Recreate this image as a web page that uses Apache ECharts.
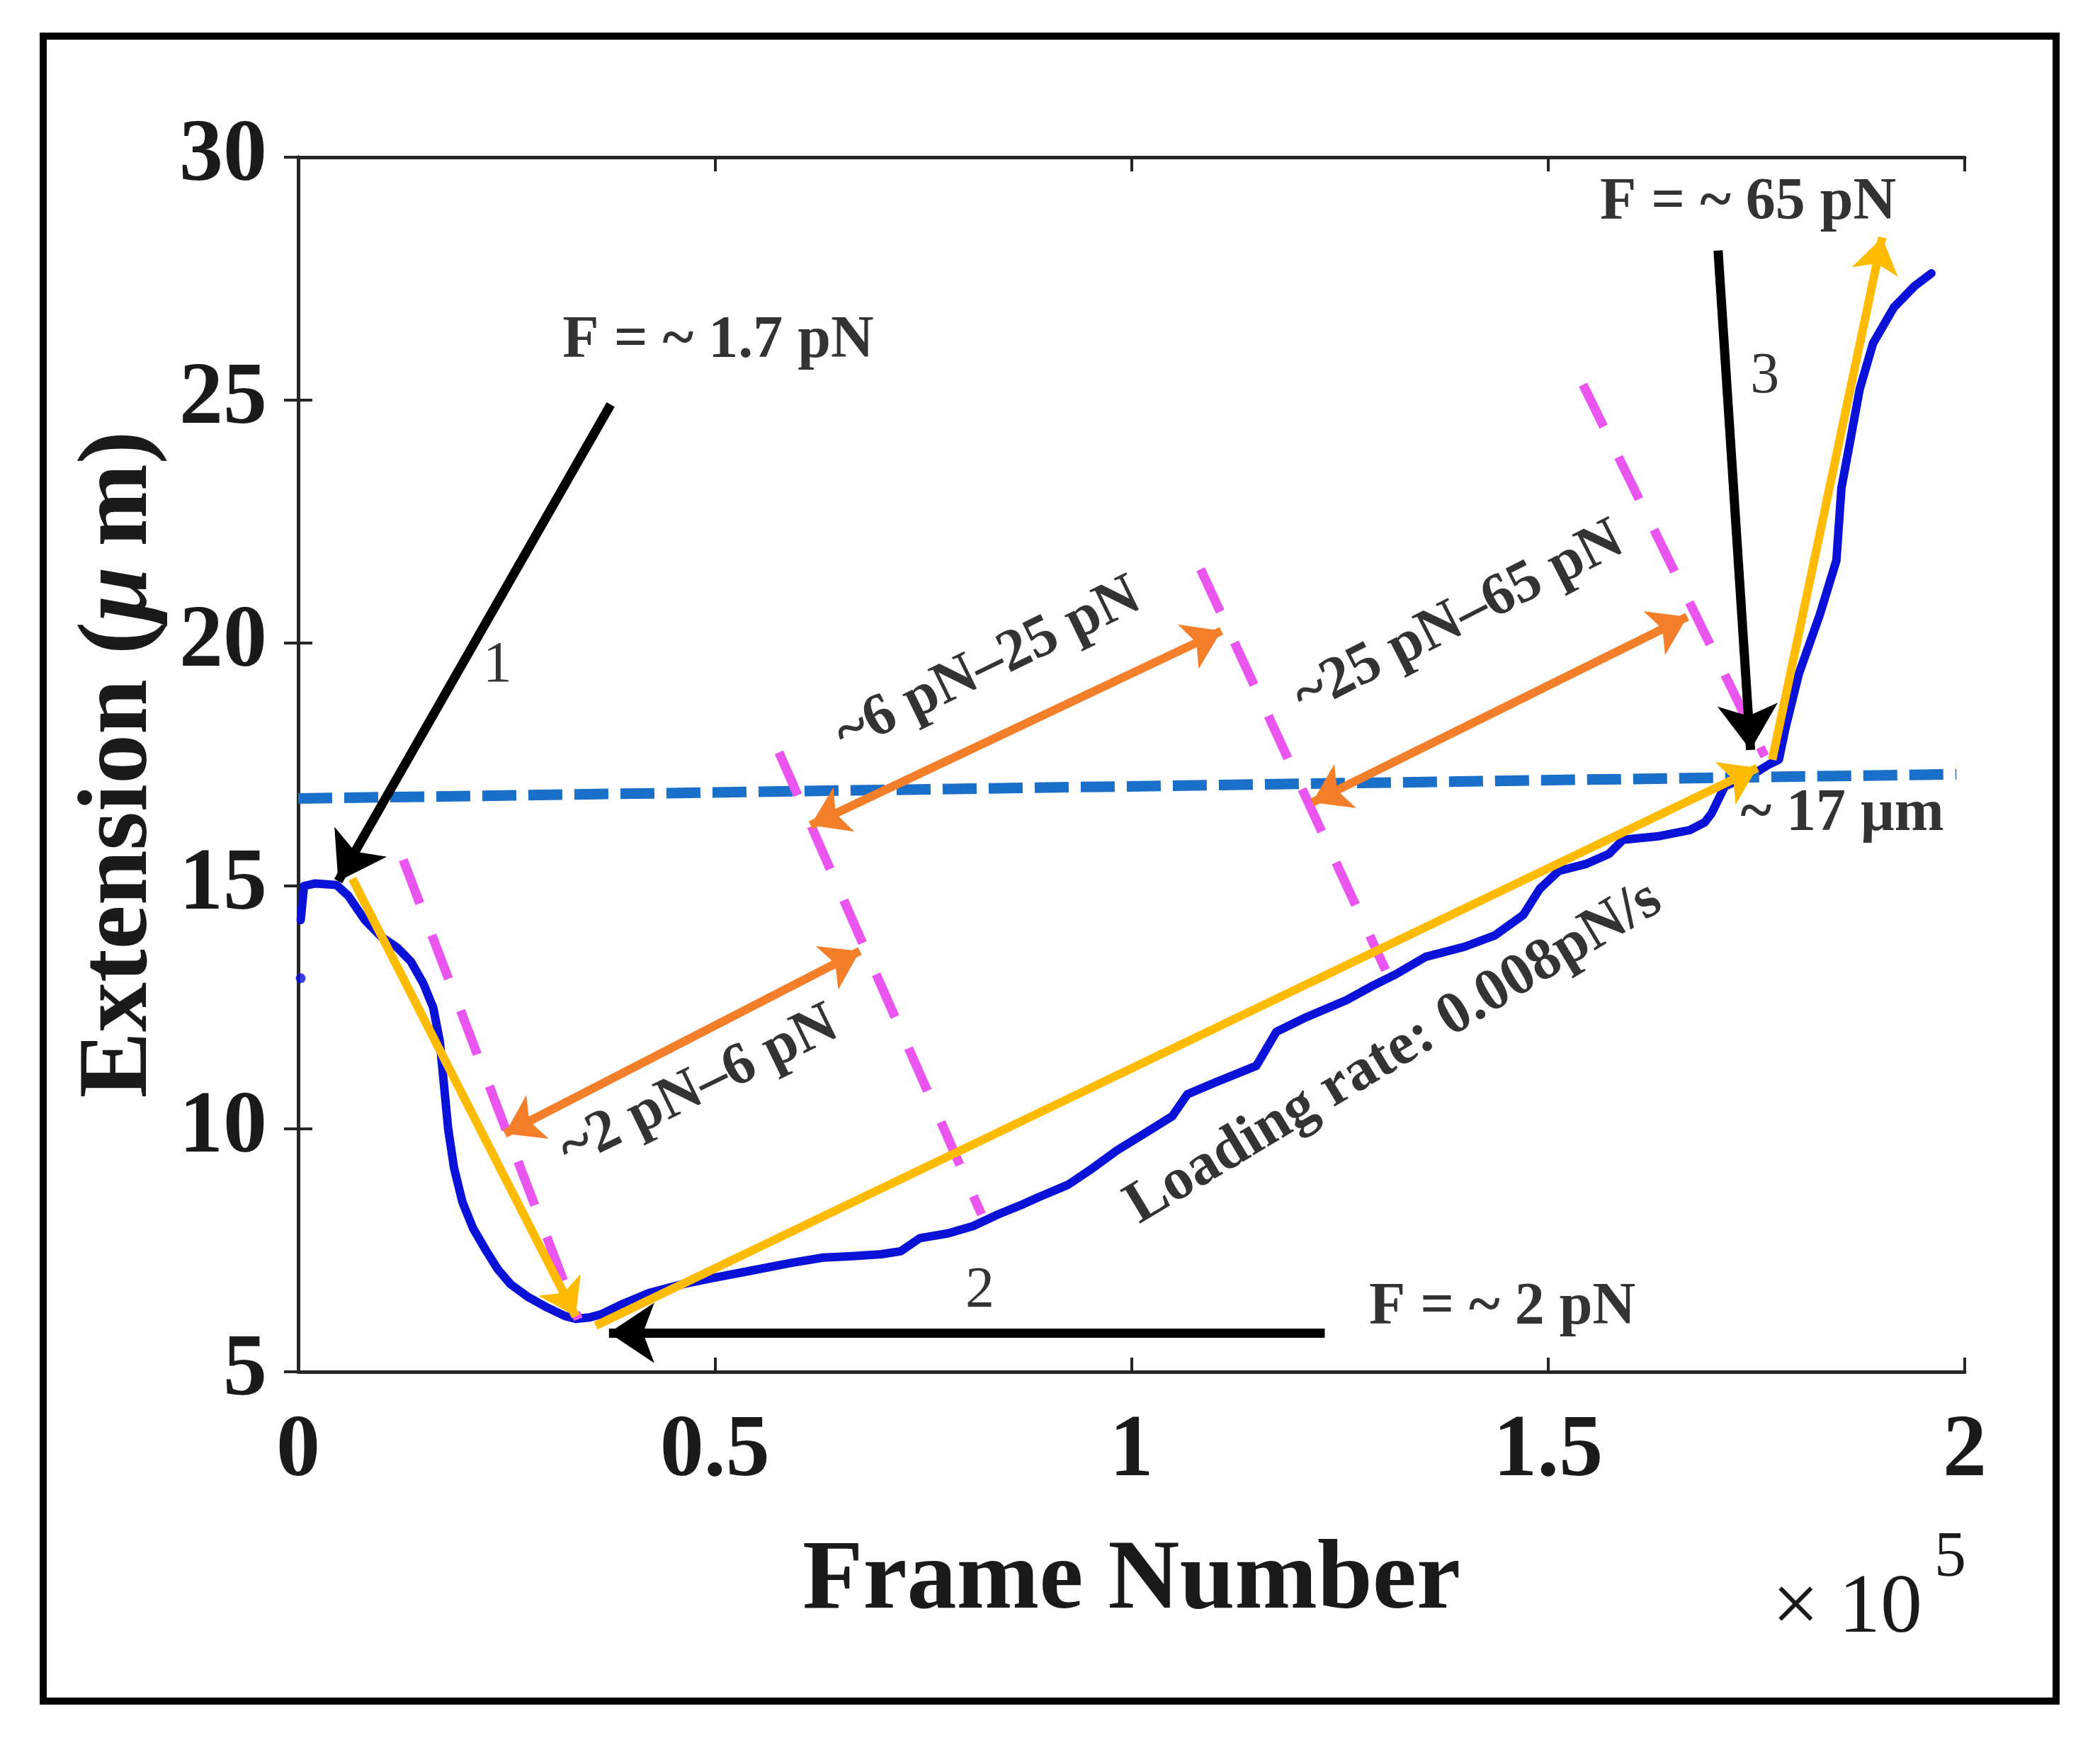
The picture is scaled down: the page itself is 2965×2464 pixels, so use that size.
<!DOCTYPE html>
<html>
<head>
<meta charset="utf-8">
<script src="https://cdn.jsdelivr.net/npm/echarts@6/dist/echarts.min.js"></script>
<style>
html,body{margin:0;padding:0;background:#fff;}
#chart{width:2965px;height:2464px;}
</style>
</head>
<body>
<div id="chart"></div>
<script>
// ---------- data (frame number in units of 1e5, extension in µm) ----------
const frameX = [0.003,0.007,0.02,0.046,0.06,0.08,0.10,0.119,0.135,0.15,0.162,0.170,0.175,0.180,0.187,0.197,0.210,0.226,0.24,0.255,0.275,0.299,0.320,0.333,0.350,0.363,0.39,0.421,0.46,0.494,0.54,0.591,0.63,0.665,0.70,0.723,0.746,0.78,0.81,0.84,0.87,0.888,0.924,0.95,0.983,1.02,1.049,1.067,1.10,1.15,1.174,1.21,1.258,1.29,1.317,1.353,1.40,1.436,1.47,1.490,1.513,1.545,1.573,1.59,1.631,1.67,1.688,1.696,1.712,1.749,1.765,1.777,1.785,1.801,1.826,1.846,1.852,1.862,1.874,1.890,1.915,1.94,1.960];
const extension = [14.3,15.0,15.05,15.02,14.8,14.3,13.95,13.73,13.45,13.0,12.5,11.8,10.9,10.0,9.2,8.5,7.95,7.48,7.1,6.8,6.55,6.32,6.15,6.09,6.12,6.18,6.4,6.62,6.8,6.92,7.07,7.24,7.35,7.38,7.42,7.48,7.75,7.85,8.0,8.24,8.45,8.59,8.85,9.15,9.56,9.95,10.26,10.71,10.95,11.3,12.0,12.3,12.65,12.95,13.18,13.54,13.75,13.98,14.4,14.94,15.31,15.45,15.66,15.95,16.02,16.15,16.31,16.49,17.05,17.33,17.5,17.6,18.26,19.37,20.58,21.7,23.19,24.11,25.23,26.17,26.91,27.35,27.61];
const firstPoint = [0.003, 13.1];

const xTicks = [0, 0.5, 1, 1.5, 2];
const yTicks = [5, 10, 15, 20, 25, 30];

// reference level (~17 µm)
const refLine = [[0, 16.8], [1.99, 17.3]];
// magenta dashed boundaries
const boundaryLines = [
  [[0.126, 15.54], [0.336, 6.08]],
  [[0.577, 17.75], [0.820, 8.24]],
  [[1.083, 21.52], [1.305, 13.27]],
  [[1.542, 25.32], [1.760, 17.67]]
];
// orange double-headed range arrows
const rangeArrows = [
  [[0.248, 9.90], [0.674, 13.66]],
  [[0.615, 16.25], [1.108, 20.25]],
  [[1.217, 16.72], [1.667, 20.54]]
];
// yellow trend arrows
const trendArrows = [
  [[0.065, 15.15], [0.333, 6.14]],
  [[0.357, 5.95], [1.751, 17.43]],
  [[1.769, 17.6], [1.901, 28.35]]
];
// black pointer arrows
const pointerArrows = [
  [[0.375, 24.91], [0.048, 15.10]],
  [[1.232, 5.80], [0.373, 5.80]],
  [[1.704, 28.08], [1.743, 17.80]]
];
// text annotations
const noteTexts = ['F = ~ 1.7 pN', 'F = ~ 2 pN', 'F = ~ 65 pN', '~ 17 μm', 'Loading rate: 0.008pN/s', '~2 pN–6 pN', '~6 pN–25 pN', '~25 pN–65 pN', '1', '2', '3'];
const noteX = [0.504, 1.445, 1.740, 1.853, 1.315, 0.481, 0.828, 1.393, 0.239, 0.818, 1.760];
const noteY = [26.21, 6.31, 29.05, 16.47, 11.56, 10.85, 19.53, 20.5, 19.53, 6.65, 25.48];

// ---------- chart ----------
const FONT = '"Liberation Serif","Times New Roman",serif';
const chart = echarts.init(document.getElementById('chart'), null, {renderer: 'canvas', devicePixelRatio: 1});

const curveData = frameX.map((x, i) => [x, extension[i]]);
const noteRot = [0, 0, 0, 0, 31, 26, 26, 27, 0, 0, 0];
const noteBold = [true, true, true, true, true, true, true, true, false, false, false];
const noteData = noteTexts.map((t, i) => ({
  value: [noteX[i], noteY[i]],
  label: {
    show: true, position: 'inside', formatter: t, rotate: noteRot[i],
    fontFamily: FONT, fontSize: noteBold[i] ? 84 : 82,
    fontWeight: noteBold[i] ? 'bold' : 'normal', color: '#000'
  }
}));

const axisLineStyle = {color: '#262626', width: 5};
const tickStyle = {show: true, inside: true, length: 20, lineStyle: {color: '#262626', width: 4}};

function linesSeries(segs, color, width, type, symbols, size) {
  return {
    type: 'lines', coordinateSystem: 'cartesian2d', z: 3,
    symbol: symbols, symbolSize: size,
    lineStyle: {color: color, width: width, type: type, opacity: 1, cap: 'butt'},
    data: segs.map(s => ({coords: s})),
    silent: true, animation: false
  };
}

const option = {
  animation: false,
  backgroundColor: '#fff',
  grid: {left: 421, top: 222, width: 2353, height: 1715, containLabel: false},
  xAxis: [{
    type: 'value', min: xTicks[0], max: xTicks[xTicks.length - 1], interval: xTicks[1] - xTicks[0], position: 'bottom',
    axisLine: {show: true, lineStyle: axisLineStyle}, axisTick: tickStyle, splitLine: {show: false},
    axisLabel: {margin: 52, fontFamily: FONT, fontSize: 124, fontWeight: 'bold', color: '#1a1a1a'},
    name: 'Frame Number', nameLocation: 'middle', nameGap: 227,
    nameTextStyle: {fontFamily: FONT, fontSize: 140, fontWeight: 'bold', color: '#1a1a1a'}
  }, {
    type: 'value', min: xTicks[0], max: xTicks[xTicks.length - 1], interval: xTicks[1] - xTicks[0], position: 'top',
    axisLine: {show: true, lineStyle: axisLineStyle}, axisTick: tickStyle, splitLine: {show: false},
    axisLabel: {show: false}
  }],
  yAxis: [{
    type: 'value', min: yTicks[0], max: yTicks[yTicks.length - 1], interval: yTicks[1] - yTicks[0], position: 'left',
    axisLine: {show: true, lineStyle: axisLineStyle}, axisTick: tickStyle, splitLine: {show: false},
    axisLabel: {margin: 44, fontFamily: FONT, fontSize: 124, fontWeight: 'bold', color: '#1a1a1a'},
    name: 'Extension ({i|μ}\u2009m)', nameLocation: 'middle', nameGap: 181,
    nameTextStyle: {fontFamily: FONT, fontSize: 140, fontWeight: 'bold', color: '#1a1a1a',
      rich: {i: {fontFamily: FONT, fontSize: 140, fontWeight: 'bold', fontStyle: 'italic', color: '#1a1a1a'}}}
  }, {
    type: 'value', min: yTicks[0], max: yTicks[yTicks.length - 1], interval: yTicks[1] - yTicks[0], position: 'right',
    axisLine: {show: true, lineStyle: axisLineStyle}, axisTick: tickStyle, splitLine: {show: false},
    axisLabel: {show: false}
  }],
  series: [
    {
      type: 'line', data: curveData, showSymbol: false, smooth: false, z: 2,
      lineStyle: {color: '#0a12d8', width: 12, join: 'round', cap: 'round'}, silent: true
    },
    {
      type: 'scatter', data: [firstPoint], symbolSize: 14, z: 2,
      itemStyle: {color: '#0a12d8'}, silent: true
    },
    linesSeries([refLine], '#1a6fc9', 15, [48, 17], ['none', 'none'], 0),
    linesSeries(boundaryLines, '#ea55f0', 13, [66, 48], ['none', 'none'], 0),
    linesSeries(rangeArrows, '#f47f2a', 12, 'solid', ['arrow', 'arrow'], 52),
    linesSeries(trendArrows, '#ffbb00', 12, 'solid', ['none', 'arrow'], 50),
    linesSeries(pointerArrows, '#000000', 13, 'solid', ['none', 'arrow'], 64),
    {
      type: 'scatter', data: noteData, symbolSize: 1, z: 5,
      itemStyle: {color: 'rgba(0,0,0,0)'}, silent: true
    }
  ],
  graphic: [
    {type: 'rect', shape: {x: 61, y: 51, width: 2842, height: 2351},
     style: {fill: 'none', stroke: '#000', lineWidth: 10}, silent: true},
    {type: 'text', left: 2502, top: 2214,
     style: {text: '×', fontFamily: FONT, fontSize: 118, fontWeight: 'normal', fill: '#1a1a1a'}},
    {type: 'text', left: 2596, top: 2214,
     style: {text: '10', fontFamily: FONT, fontSize: 118, fontWeight: 'normal', fill: '#1a1a1a'}},
    {type: 'text', left: 2731, top: 2156,
     style: {text: '5', fontFamily: FONT, fontSize: 90, fontWeight: 'normal', fill: '#1a1a1a'}}
  ]
};
chart.setOption(option);
</script>
</body>
</html>
